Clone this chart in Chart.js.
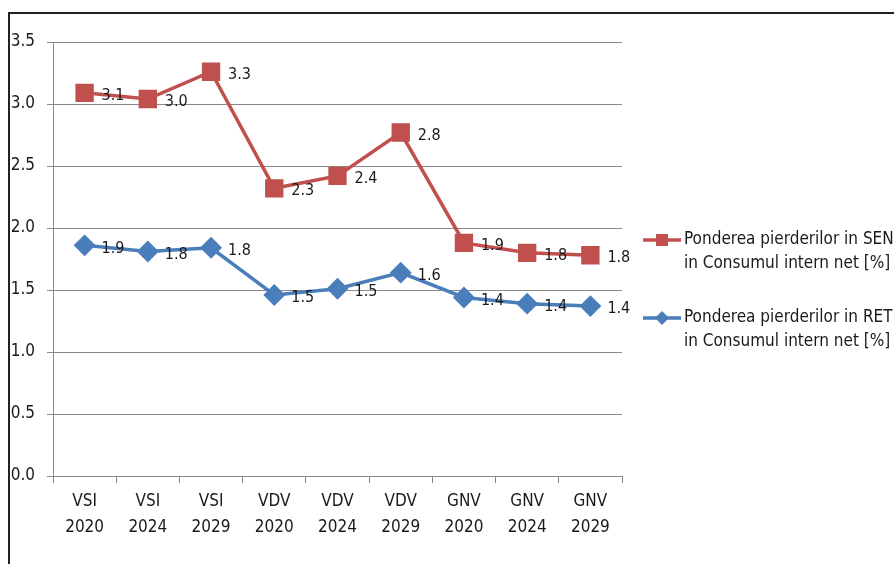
<!DOCTYPE html>
<html>
<head>
<meta charset="utf-8">
<script src="https://cdn.jsdelivr.net/npm/chart.js@4/dist/chart.umd.min.js"></script>
<style>
  html, body { margin: 0; padding: 0; background: #fff; }
  #wrap { position: relative; width: 894px; height: 564px; }
</style>
</head>
<body>
<div id="wrap"><canvas id="lossChart" width="894" height="564"></canvas></div>
<script>
// data
const categories = [
    ['VSI', '2020'], ['VSI', '2024'], ['VSI', '2029'],
    ['VDV', '2020'], ['VDV', '2024'], ['VDV', '2029'],
    ['GNV', '2020'], ['GNV', '2024'], ['GNV', '2029']
];
const senValues = [3.09, 3.04, 3.26, 2.32, 2.42, 2.77, 1.88, 1.80, 1.78];
const retValues = [1.86, 1.81, 1.84, 1.46, 1.51, 1.64, 1.44, 1.39, 1.37];
const senLabel = ['Ponderea pierderilor in SEN', 'in Consumul intern net [%]'];
const retLabel = ['Ponderea pierderilor in RET', 'in Consumul intern net [%]'];
const yTicks = [0, 0.5, 1.0, 1.5, 2.0, 2.5, 3.0, 3.5];

const FONT = "'Liberation Sans Narrow', 'DejaVu Sans Condensed', sans-serif";
const RED = '#C0504D';
const BLUE = '#4A7EBB';

// frame around the figure (left and top border of the page box)
const framePlugin = {
    id: 'frame',
    beforeDraw(chart) {
        const ctx = chart.ctx;
        ctx.save();
        ctx.strokeStyle = '#222';
        ctx.lineWidth = 2;
        ctx.beginPath();
        ctx.moveTo(894, 13);
        ctx.lineTo(9, 13);
        ctx.lineTo(9, 564);
        ctx.stroke();
        ctx.restore();
    }
};

// value labels to the right of each point
const valueLabels = {
    id: 'valueLabels',
    afterDatasetsDraw(chart) {
        const ctx = chart.ctx;
        ctx.save();
        ctx.font = '16px ' + FONT;
        ctx.fillStyle = '#1a1a1a';
        ctx.textAlign = 'left';
        ctx.textBaseline = 'middle';
        chart.data.datasets.forEach((ds, i) => {
            chart.getDatasetMeta(i).data.forEach((pt, j) => {
                ctx.fillText(ds.data[j].toFixed(1), pt.x + 17, pt.y + 3);
            });
        });
        ctx.restore();
    }
};

// legend on the right, two text lines per entry
const sideLegend = {
    id: 'sideLegend',
    afterDraw(chart) {
        const ctx = chart.ctx;
        const rows = [240, 318];
        ctx.save();
        chart.data.datasets.forEach((ds, i) => {
            const y = rows[i];
            ctx.strokeStyle = ds.borderColor;
            ctx.lineWidth = 3.5;
            ctx.beginPath();
            ctx.moveTo(643, y);
            ctx.lineTo(681, y);
            ctx.stroke();
            ctx.fillStyle = ds.backgroundColor;
            if (ds.pointStyle === 'rect') {
                ctx.fillRect(656, y - 6, 12, 12);
            } else {
                ctx.beginPath();
                ctx.moveTo(662, y - 7);
                ctx.lineTo(669, y);
                ctx.lineTo(662, y + 7);
                ctx.lineTo(655, y);
                ctx.closePath();
                ctx.fill();
            }
            ctx.font = '17px ' + FONT;
            ctx.fillStyle = '#1a1a1a';
            ctx.textAlign = 'left';
            ctx.textBaseline = 'middle';
            ds.label.forEach((line, k) => ctx.fillText(line, 684, y + k * 24));
        });
        ctx.restore();
    }
};

const ctx = document.getElementById('lossChart').getContext('2d');

new Chart(ctx, {
    type: 'line',
    data: {
        labels: categories,
        datasets: [{
            label: senLabel,
            data: senValues,
            borderColor: RED,
            backgroundColor: RED,
            borderWidth: 3.5,
            pointStyle: 'rect',
            pointRadius: 10.5,
            pointHoverRadius: 10.5,
            tension: 0
        }, {
            label: retLabel,
            data: retValues,
            borderColor: BLUE,
            backgroundColor: BLUE,
            borderWidth: 3.5,
            pointStyle: 'rectRot',
            pointRadius: 8.5,
            pointHoverRadius: 8.5,
            tension: 0
        }]
    },
    options: {
        responsive: false,
        animation: false,
        events: [],
        layout: {
            padding: { left: 0, top: 42, right: 272, bottom: 0 }
        },
        scales: {
            x: {
                offset: true,
                grid: {
                    offset: true,
                    drawOnChartArea: false,
                    drawTicks: true,
                    tickLength: 7,
                    color: '#8a8a8a'
                },
                border: { display: true, color: '#8a8a8a' },
                ticks: {
                    color: '#1a1a1a',
                    font: { family: FONT, size: 17, lineHeight: 1.5 },
                    padding: 6,
                    maxRotation: 0,
                    autoSkip: false
                },
                afterFit(scale) { scale.height = 88; }
            },
            y: {
                min: 0,
                max: 3.5,
                afterBuildTicks(scale) {
                    scale.ticks = yTicks.map(v => ({ value: v }));
                },
                grid: {
                    color: '#8a8a8a',
                    tickLength: 6,
                    drawTicks: true
                },
                border: { display: true, color: '#8a8a8a' },
                ticks: {
                    color: '#1a1a1a',
                    font: { family: FONT, size: 17 },
                    padding: 12,
                    callback: v => Number(v).toFixed(1)
                },
                afterFit(scale) { scale.width = 53; }
            }
        },
        plugins: {
            legend: { display: false },
            title: { display: false },
            tooltip: { enabled: false }
        }
    },
    plugins: [framePlugin, valueLabels, sideLegend]
});
</script>
</body>
</html>
